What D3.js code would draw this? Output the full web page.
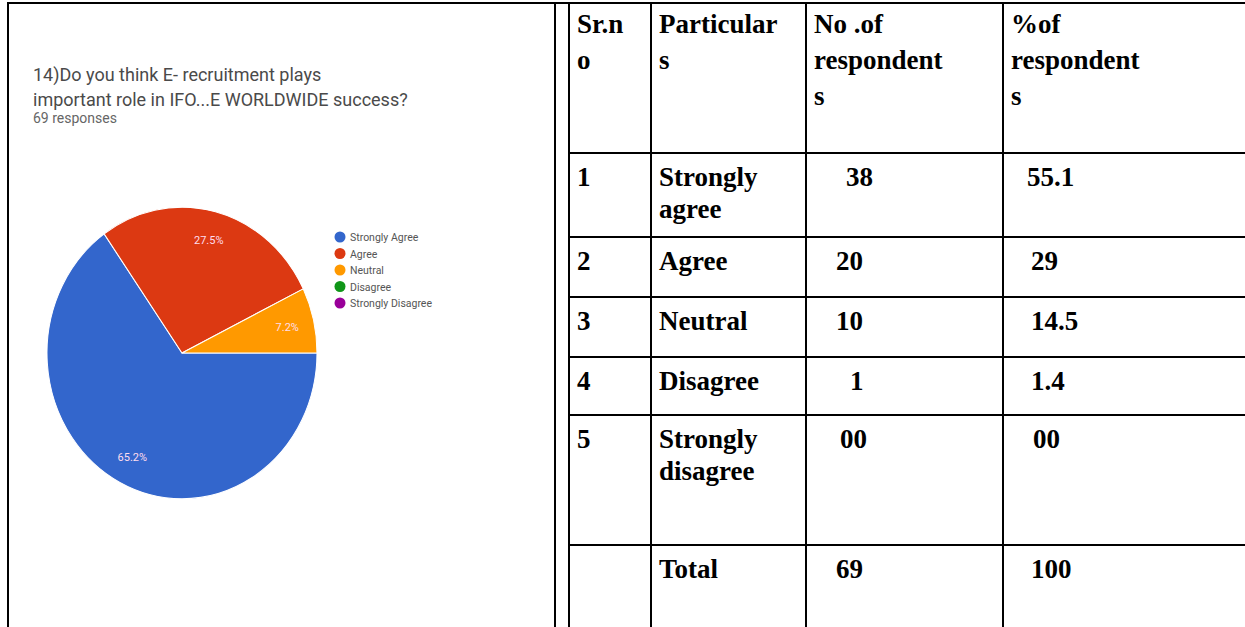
<!DOCTYPE html>
<html><head><meta charset="utf-8">
<script src="https://cdn.jsdelivr.net/npm/d3@7"></script>
<style>html,body{margin:0;padding:0;background:#fff;}svg{display:block;}</style>
</head><body>
<svg id="c" width="1245" height="627"></svg>
<script>
// ---- data ----
const pieCategories = ["Strongly Agree","Agree","Neutral","Disagree","Strongly Disagree"];
const pieCounts = [45, 19, 5, 0, 0];
const pieColors = ["#3366cc","#dc3912","#ff9900","#109618","#990099"];
const titleLines = ["14)Do you think E- recruitment plays","important role in IFO...E WORLDWIDE success?"];
const responsesText = "69 responses";

const headerCells = [["Sr.n","o"],["Particular","s"],["No .of","respondent","s"],["%of","respondent","s"]];
const srNo = ["1","2","3","4","5",""];
const particulars = [["Strongly","agree"],["Agree"],["Neutral"],["Disagree"],["Strongly","disagree"],["Total"]];
const respondents = ["38","20","10","1","00","69"];
const percentRespondents = ["55.1","29","14.5","1.4","00","100"];

// ---- layout ----
const svg = d3.select("#c");
const W = 1245, H = 627;
const line = (x1,y1,x2,y2)=>svg.append("line").attr("x1",x1).attr("y1",y1).attr("x2",x2).attr("y2",y2)
  .attr("stroke","#000").attr("stroke-width",2);

// left cell
line(8,3,8,H); line(555,3,555,H);
line(7,3,W,3);
// table grid
const colX = [569, 651, 806, 1003];
const rowY = [3, 153, 237, 297, 357, 415, 545];
colX.forEach(x=>line(x,3,x,H));
rowY.slice(1).forEach(y=>line(colX[0],y,W,y));

// title
const tg = svg.append("g").attr("font-family","Roboto, 'Noto Sans', sans-serif");
titleLines.forEach((t,i)=>tg.append("text").attr("x",33).attr("y",81+i*25).attr("font-size",18)
  .attr("fill","#4a4a4a").text(t));
tg.append("text").attr("x",33).attr("y",123).attr("font-size",14).attr("fill","#666").text(responsesText);

// pie
const cx = 182, cy = 353, r = 135, sy = 1.08;
const pie = d3.pie().sort(null).startAngle(Math.PI/2).endAngle(Math.PI/2+2*Math.PI);
const arcs = pie(pieCounts);
const arc = d3.arc().innerRadius(0).outerRadius(r);
const pg = svg.append("g").attr("transform",`translate(${cx},${cy}) scale(1,${sy})`);
pg.selectAll("path").data(arcs.filter(d=>d.value>0)).join("path")
  .attr("d",arc).attr("fill",(d)=>pieColors[d.index]).attr("stroke","#fff").attr("stroke-width",1);
const total = d3.sum(pieCounts);
const labelArc = d3.arc().innerRadius(r*0.8).outerRadius(r*0.8);
arcs.filter(d=>d.value>0).forEach(d=>{
  const [lx,ly] = labelArc.centroid(d);
  svg.append("text").attr("x",cx+lx).attr("y",cy+ly*sy+4).attr("text-anchor","middle")
    .attr("font-family","Roboto, sans-serif").attr("font-size",11).attr("fill","#fde")
    .text((d.value/total*100).toFixed(1)+"%");
});
// legend
const lg = svg.append("g").attr("font-family","Roboto, sans-serif");
pieCategories.forEach((c,i)=>{
  lg.append("circle").attr("cx",340).attr("cy",237+i*16.5).attr("r",5.5).attr("fill",pieColors[i]);
  lg.append("text").attr("x",350).attr("y",241+i*16.5).attr("font-size",10.5).attr("fill","#555").text(c);
});

// table text
const tt = svg.append("g").attr("font-family","'Liberation Serif','Times New Roman',serif")
  .attr("font-weight","bold").attr("font-size",27).attr("fill","#000");
const lh = 32;
headerCells.forEach((lines,ci)=>{
  lines.forEach((t,li)=>tt.append("text").attr("x",colX[ci]+8).attr("y",33+li*36).text(t));
});
const indent3 = [32,22,22,36,26,22];
const indent4 = [16,20,20,20,22,20];
particulars.forEach((lines,ri)=>{
  const by = rowY[ri+1]+33;
  tt.append("text").attr("x",colX[0]+8).attr("y",by).text(srNo[ri]);
  lines.forEach((t,li)=>tt.append("text").attr("x",colX[1]+8).attr("y",by+li*lh).text(t));
  tt.append("text").attr("x",colX[2]+8+indent3[ri]).attr("y",by).text(respondents[ri]);
  tt.append("text").attr("x",colX[3]+8+indent4[ri]).attr("y",by).text(percentRespondents[ri]);
});
</script>
</body></html>
